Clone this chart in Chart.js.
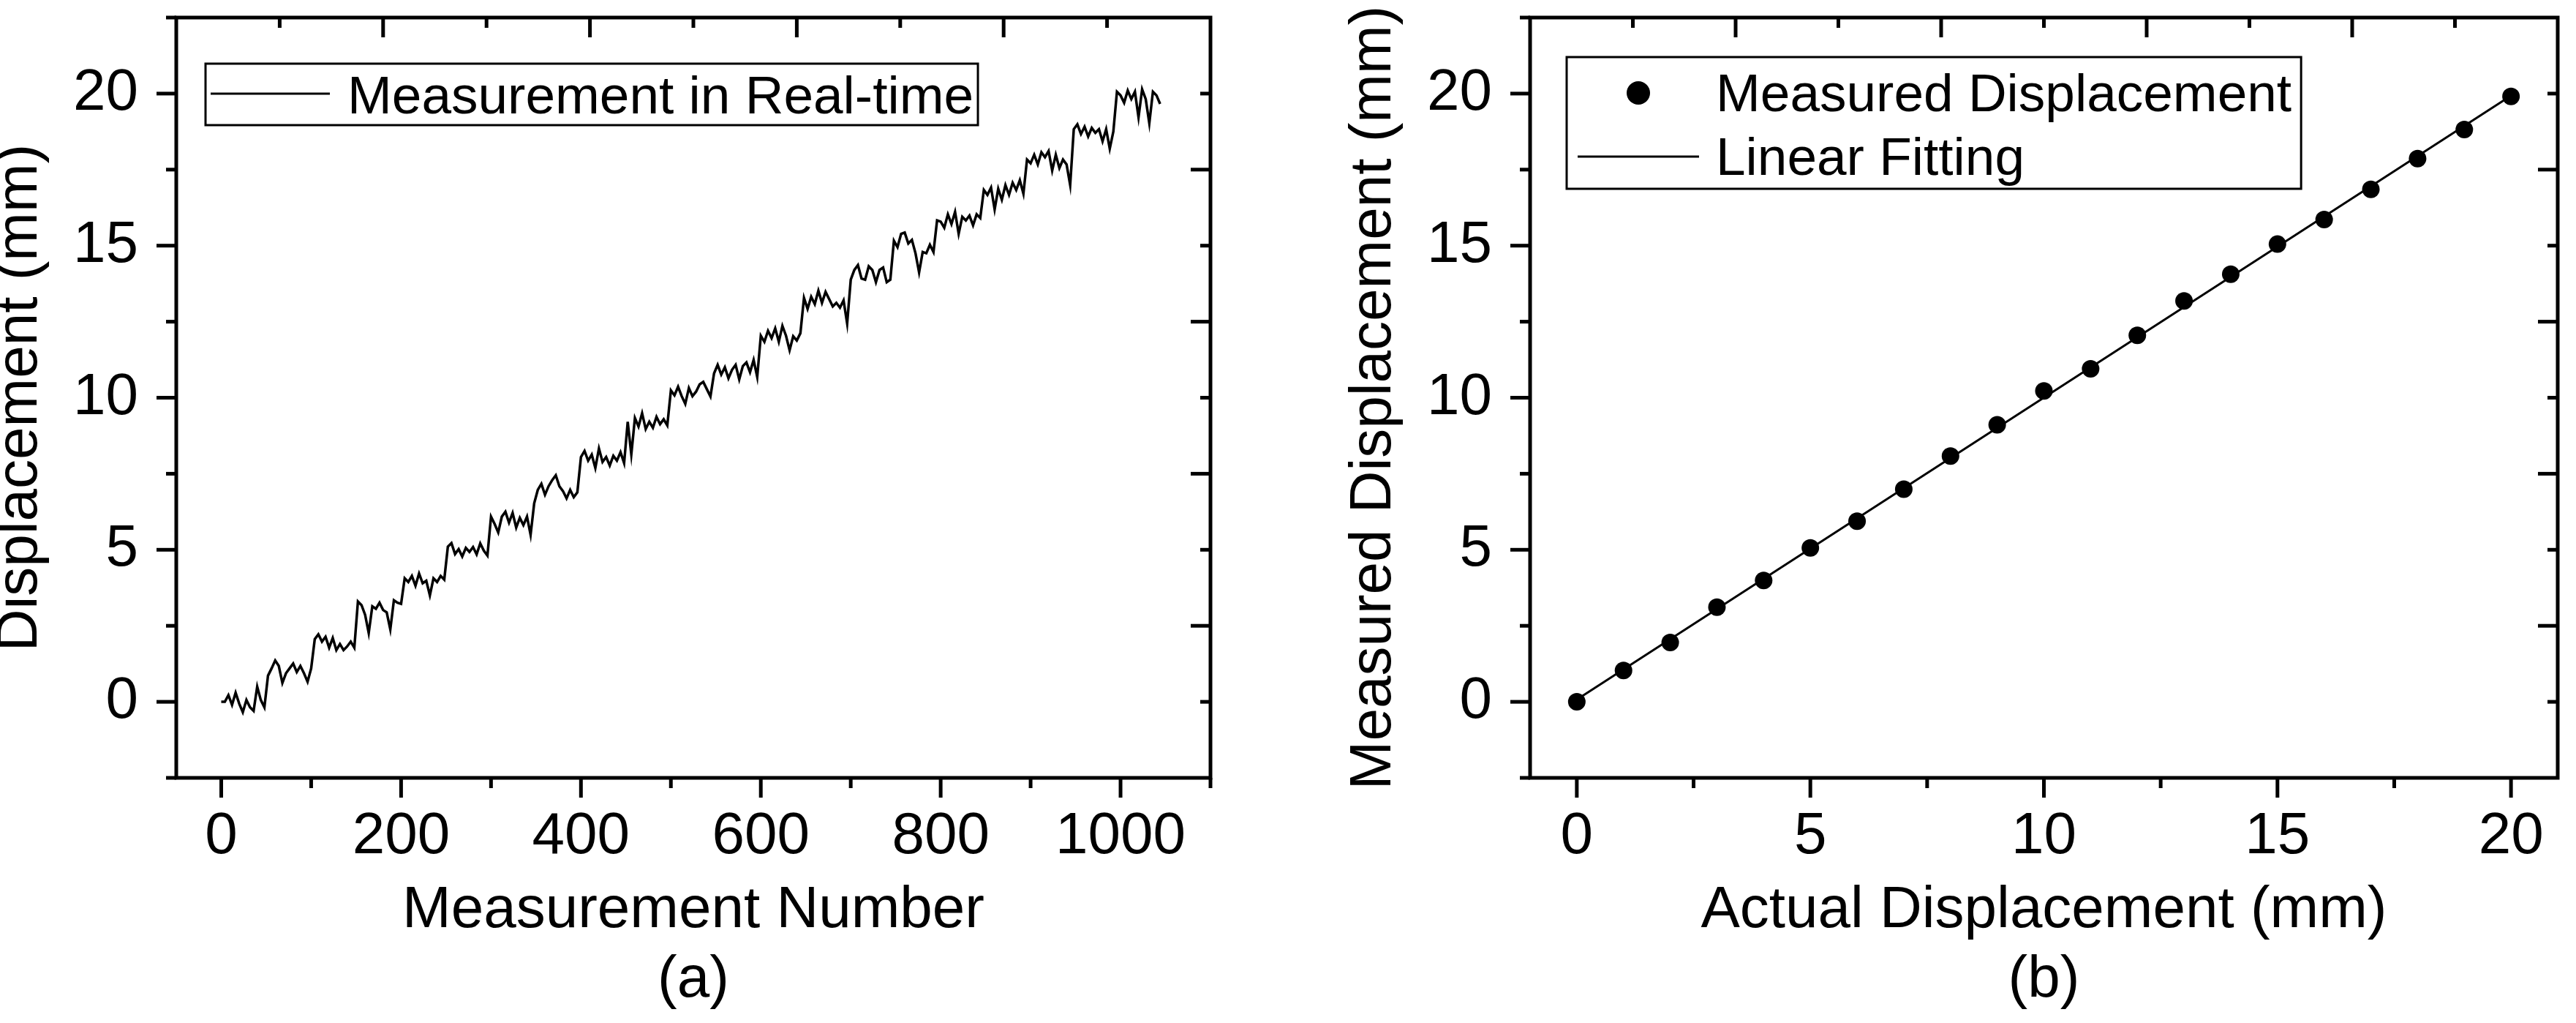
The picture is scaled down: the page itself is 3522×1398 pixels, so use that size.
<!DOCTYPE html>
<html>
<head>
<meta charset="utf-8">
<script src="https://cdn.jsdelivr.net/npm/chart.js@4.4.1/dist/chart.umd.min.js"></script>
<style>
  html, body { margin: 0; padding: 0; background: #fff; }
  #wrap { position: relative; width: 3522px; height: 1398px; }
  canvas { position: absolute; top: 0; }
  #chartA { left: 0; }
  #chartB { left: 1761px; }
</style>
</head>
<body>
<div id="wrap">
  <canvas id="chartA" width="1761" height="1398"></canvas>
  <canvas id="chartB" width="1761" height="1398"></canvas>
</div>
<script>
const sampleStep = 4;
const realTimeDisp = [
  0.00, 0.00, 0.22, -0.10, 0.30, -0.06, -0.34, 0.06, -0.18, -0.30, 0.50, 0.06, -0.18,
  0.86, 1.10, 1.36, 1.18, 0.62, 0.94, 1.10, 1.26, 0.98, 1.18, 0.94, 0.66,
  1.10, 2.06, 2.22, 1.98, 2.14, 1.78, 2.10, 1.70, 1.90, 1.70, 1.82, 1.98, 1.78,
  3.30, 3.18, 2.86, 2.26, 3.14, 3.06, 3.26, 3.02, 2.94, 2.38, 3.34, 3.26, 3.22,
  4.06, 3.94, 4.14, 3.82, 4.22, 3.90, 3.98, 3.50, 4.06, 3.94, 4.14, 4.02,
  5.10, 5.22, 4.86, 5.02, 4.78, 5.06,
  4.93, 5.09, 4.85, 5.21, 4.97, 4.81,
  6.09, 5.85, 5.57, 6.09, 6.25, 5.89, 6.21, 5.73, 6.05, 5.81, 6.09, 5.49,
  6.53, 6.97, 7.17, 6.81, 7.09, 7.29, 7.45, 7.09, 6.93, 6.69, 6.97, 6.73, 6.89,
  8.05, 8.25, 7.93, 8.13, 7.69, 8.33, 7.89, 8.05, 7.77, 8.09, 7.93, 8.21, 7.85,
  9.21, 8.13, 9.33, 9.05, 9.49, 8.97, 9.21, 9.01, 9.37, 9.13, 9.29, 9.09,
  10.24, 10.08, 10.36, 10.05, 9.80, 10.32, 10.05, 10.20, 10.44, 10.52, 10.28,
  10.04, 10.80, 11.08, 10.76, 11.00, 10.64, 10.92, 11.08, 10.60, 11.04, 11.16, 10.84, 11.24, 10.68,
  12.04, 11.84, 12.20, 11.96, 12.28, 11.84, 12.36, 12.04, 11.56, 12.02, 11.88, 12.12,
  13.28, 12.92, 13.32, 13.08, 13.52, 13.12, 13.48, 13.24, 13.00, 13.12, 12.96, 13.20, 12.44,
  13.88, 14.20, 14.36, 13.92, 13.88, 14.32, 14.20, 13.80, 14.20, 14.28, 13.80, 13.88,
  15.16, 14.95, 15.39, 15.43, 15.07, 15.19, 14.75, 14.12, 14.79, 14.75, 15.03, 14.79, 15.83,
  15.79, 15.59, 16.03, 15.71, 16.11, 15.39, 15.95, 15.83, 15.99, 15.67, 16.03, 15.91,
  16.83, 16.67, 16.91, 16.19, 16.87, 16.51, 16.99, 16.67, 17.07, 16.83, 17.15, 16.71,
  17.83, 17.71, 17.99, 17.67, 18.07, 17.91, 18.11, 17.47, 17.99, 17.55, 17.83, 17.67, 16.99,
  18.83, 18.99, 18.67, 18.91, 18.59, 18.87, 18.71, 18.83, 18.43, 18.83, 18.19, 18.75,
  20.06, 19.94, 19.70, 20.10, 19.82, 20.06, 19.22, 20.14, 19.82, 19.02, 20.06, 19.94, 19.66
];

// (b) calibration points
const actualDisp = [0, 1, 2, 3, 4, 5, 6, 7, 8, 9, 10, 11, 12, 13, 14, 15, 16, 17, 18, 19, 20];
const measuredDisp = [0.00, 1.03, 1.95, 3.11, 3.99, 5.06, 5.94, 6.99, 8.08, 9.11, 10.22,
  10.95, 12.05, 13.18, 14.06, 15.05, 15.86, 16.85, 17.86, 18.82, 19.91];

// ticks
const xTicksA = [0, 200, 400, 600, 800, 1000];
const xMinorA = [100, 300, 500, 700, 900, 1100];
const xTicksB = [0, 5, 10, 15, 20];
const xMinorB = [2.5, 7.5, 12.5, 17.5];
const yTicks = [0, 5, 10, 15, 20];
const yMinor = [-2.5, 2.5, 7.5, 12.5, 17.5, 22.5];
// top / right axes carry their own 0..10 scale
const frameMajor = [2, 4, 6, 8];
const frameMinor = [1, 3, 5, 7, 9];

const fontFamily = '"Liberation Sans", Arial, Helvetica, sans-serif';
Chart.defaults.font.family = fontFamily;
Chart.defaults.color = '#000';

function font(size, lineHeight) {
  return { family: fontFamily, size: size, lineHeight: lineHeight };
}

// keep Chart.js from growing the plot margins for label overhang
function noPad(s) {
  s.paddingTop = 0; s.paddingBottom = 0; s.paddingLeft = 0; s.paddingRight = 0;
}

// axis frame with Origin-style ticks
const originFrame = {
  id: 'originFrame',
  afterDraw(chart, args, opts) {
    const { ctx, chartArea: a, scales } = chart;
    const major = 27, minor = 14;
    ctx.save();
    ctx.strokeStyle = '#000';
    ctx.lineWidth = 5;
    const seg = (x1, y1, x2, y2) => {
      ctx.beginPath(); ctx.moveTo(x1, y1); ctx.lineTo(x2, y2); ctx.stroke();
    };
    opts.xMajor.forEach(v => { const x = scales.x.getPixelForValue(v); seg(x, a.bottom, x, a.bottom + major); });
    opts.xMinor.forEach(v => { const x = scales.x.getPixelForValue(v); seg(x, a.bottom, x, a.bottom + minor); });
    opts.yMajor.forEach(v => { const y = scales.y.getPixelForValue(v); seg(a.left, y, a.left - major, y); });
    opts.yMinor.forEach(v => { const y = scales.y.getPixelForValue(v); seg(a.left, y, a.left - minor, y); });
    frameMajor.forEach(v => {
      const x = scales.xTop.getPixelForValue(v); seg(x, a.top, x, a.top + major);
      const y = scales.yRight.getPixelForValue(v); seg(a.right, y, a.right - major, y);
    });
    frameMinor.forEach(v => {
      const x = scales.xTop.getPixelForValue(v); seg(x, a.top, x, a.top + minor);
      const y = scales.yRight.getPixelForValue(v); seg(a.right, y, a.right - minor, y);
    });
    ctx.strokeRect(a.left, a.top, a.width, a.height);
    ctx.restore();
  }
};

// boxed legend inside the plot
const boxLegend = {
  id: 'boxLegend',
  afterDraw(chart, args, opts) {
    const { ctx, chartArea: a } = chart;
    const sets = chart.data.datasets;
    ctx.save();
    ctx.font = '73px ' + fontFamily;
    ctx.fillStyle = '#000';
    ctx.strokeStyle = '#000';
    let textW = 0;
    sets.forEach(d => { textW = Math.max(textW, ctx.measureText(d.label).width); });
    const x0 = a.left + opts.dx, y0 = a.top + opts.dy;
    ctx.lineWidth = 3;
    ctx.strokeRect(x0, y0, opts.textDx + textW + opts.padRight, opts.boxH);
    sets.forEach((d, i) => {
      const cy = y0 + opts.rowY + i * opts.rowH;
      if (d.showLine) {
        ctx.beginPath();
        ctx.moveTo(x0 + opts.sample[0], cy);
        ctx.lineTo(x0 + opts.sample[1], cy);
        ctx.stroke();
      } else {
        ctx.beginPath();
        ctx.arc(x0 + opts.dotDx, cy, opts.dotR, 0, Math.PI * 2);
        ctx.fill();
      }
      ctx.textBaseline = 'alphabetic';
      ctx.fillText(d.label, x0 + opts.textDx, cy + opts.baseShift);
    });
    ctx.restore();
  }
};

function makeScales(p) {
  const hidden = { ticks: { display: false }, grid: { display: false }, border: { display: false } };
  return {
    x: {
      type: 'linear', position: 'bottom', min: p.xMin, max: p.xMax,
      afterBuildTicks: s => { s.ticks = p.xTicks.map(v => ({ value: v })); },
      afterFit: s => { s.height = 335; noPad(s); },
      grid: { display: false }, border: { display: false },
      ticks: { color: '#000', font: font(80, 1.2), padding: 25, maxRotation: 0, autoSkip: false,
        callback: v => String(v) },
      title: { display: true, text: p.xTitle, color: '#000', font: font(80, 1.1875), padding: { top: 0, bottom: 11 } }
    },
    y: {
      type: 'linear', position: 'left', min: -2.5, max: 22.5,
      afterBuildTicks: s => { s.ticks = yTicks.map(v => ({ value: v })); },
      afterFit: s => { s.width = p.yWidth; noPad(s); },
      grid: { display: false }, border: { display: false },
      ticks: { color: '#000', font: font(80, 1.2), padding: 44, callback: v => String(v) },
      title: { display: true, text: p.yTitle, color: '#000', font: font(80, 0.7), padding: { top: p.yTitlePad, bottom: 0 } }
    },
    xTop: Object.assign({ type: 'linear', position: 'top', min: 0, max: 10,
      afterFit: s => { s.height = 0; noPad(s); } }, hidden),
    yRight: Object.assign({ type: 'linear', position: 'right', min: 0, max: 10,
      afterFit: s => { s.width = 0; noPad(s); } }, hidden)
  };
}

// panel (a)
const realTimePoints = realTimeDisp.map((v, i) => ({ x: i * sampleStep, y: v }));

new Chart(document.getElementById('chartA'), {
  type: 'scatter',
  data: {
    datasets: [{
      label: 'Measurement in Real-time',
      data: realTimePoints,
      showLine: true,
      borderColor: '#000',
      borderWidth: 3.5,
      pointRadius: 0,
      tension: 0
    }]
  },
  options: {
    responsive: false,
    animation: false,
    events: [],
    layout: { padding: { left: 0, top: 24, right: 106, bottom: 0 } },
    scales: makeScales({
      xMin: -50, xMax: 1100, xTicks: xTicksA,
      xTitle: ['Measurement Number', '(a)'],
      yTitle: 'Displacement (mm)', yWidth: 241, yTitlePad: 0
    }),
    plugins: {
      legend: { display: false },
      tooltip: { enabled: false },
      originFrame: { xMajor: xTicksA, xMinor: xMinorA, yMajor: yTicks, yMinor: yMinor },
      boxLegend: { dx: 40, dy: 63, boxH: 84, rowY: 41, rowH: 87, textDx: 194, padRight: 6,
        sample: [7, 170], dotDx: 0, dotR: 16, baseShift: 27 }
    }
  },
  plugins: [originFrame, boxLegend]
});

// panel (b): least-squares line through the calibration points
const meanX = actualDisp.reduce((s, v) => s + v, 0) / actualDisp.length;
const meanY = measuredDisp.reduce((s, v) => s + v, 0) / measuredDisp.length;
let sxy = 0, sxx = 0;
actualDisp.forEach((x, i) => { sxy += (x - meanX) * (measuredDisp[i] - meanY); sxx += (x - meanX) * (x - meanX); });
const slope = sxy / sxx;
const intercept = meanY - slope * meanX;
const fitPoints = [actualDisp[0], actualDisp[actualDisp.length - 1]].map(x => ({ x: x, y: intercept + slope * x }));
const measuredPoints = actualDisp.map((x, i) => ({ x: x, y: measuredDisp[i] }));

new Chart(document.getElementById('chartB'), {
  type: 'scatter',
  data: {
    datasets: [{
      label: 'Measured Displacement',
      data: measuredPoints,
      showLine: false,
      pointRadius: 12,
      pointBackgroundColor: '#000',
      pointBorderWidth: 0
    }, {
      label: 'Linear Fitting',
      data: fitPoints,
      showLine: true,
      borderColor: '#000',
      borderWidth: 3,
      pointRadius: 0
    }]
  },
  options: {
    responsive: false,
    animation: false,
    events: [],
    layout: { padding: { left: 0, top: 24, right: 25, bottom: 0 } },
    scales: makeScales({
      xMin: -1, xMax: 21, xTicks: xTicksB,
      xTitle: ['Actual Displacement (mm)', '(b)'],
      yTitle: 'Measured Displacement (mm)', yWidth: 331, yTitlePad: 90
    }),
    plugins: {
      legend: { display: false },
      tooltip: { enabled: false },
      originFrame: { xMajor: xTicksB, xMinor: xMinorB, yMajor: yTicks, yMinor: yMinor },
      boxLegend: { dx: 50, dy: 54, boxH: 180, rowY: 49, rowH: 87, textDx: 204, padRight: 13,
        sample: [15, 181], dotDx: 98, dotR: 16, baseShift: 25 }
    }
  },
  plugins: [originFrame, boxLegend]
});
</script>
</body>
</html>
